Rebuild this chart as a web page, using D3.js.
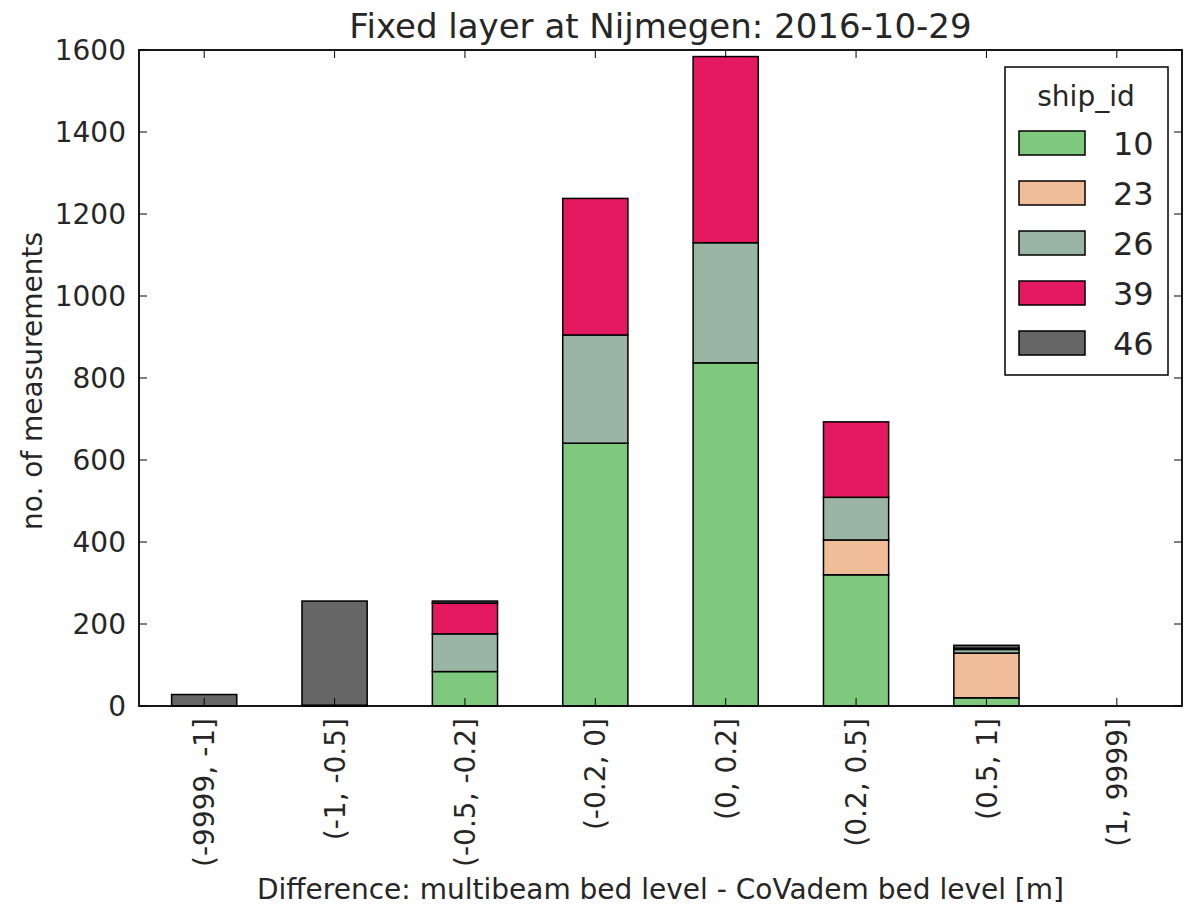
<!DOCTYPE html>
<html><head><meta charset="utf-8">
<script src="https://cdn.jsdelivr.net/npm/d3@7"></script>
<style>body{margin:0;background:#fff}svg{display:block}text{font-family:"DejaVu Sans",sans-serif;fill:#262626}</style>
</head><body><svg id="c" width="1185" height="908"></svg>
<script>
const categories = ["(-9999, -1]","(-1, -0.5]","(-0.5, -0.2]","(-0.2, 0]","(0, 0.2]","(0.2, 0.5]","(0.5, 1]","(1, 9999]"];
const ships = ["10","23","26","39","46"];
const s10 = [0, 2, 84, 641, 837, 320, 20, 0];
const s23 = [0, 0, 0, 0, 0, 85, 109, 0];
const s26 = [0, 0, 92, 264, 293, 104, 9, 0];
const s39 = [0, 0, 75, 333, 454, 184, 3, 0];
const s46 = [28, 254, 5, 0, 0, 0, 7, 0];
const colors = ["#7fc97f","#efbd97","#9ab5a3","#e4195f","#666666"];
const yTicks = [0,200,400,600,800,1000,1200,1400,1600];

const series = [s10,s23,s26,s39,s46];
const rows = categories.map((c,i)=>{const r={cat:c}; ships.forEach((s,j)=>r[s]=series[j][i]); return r;});
const stacked = d3.stack().keys(ships)(rows);

const svg = d3.select("#c");
const m = {l:139, r:1182, t:50, b:706};
const x = d3.scaleBand().domain(categories).range([m.l,m.r]).paddingInner(0.5).paddingOuter(0.25);
const y = d3.scaleLinear().domain([0,1600]).range([m.b,m.t]);

stacked.forEach((layer,j)=>{
  svg.append("g").selectAll("rect").data(layer.filter(d=>d[1]-d[0]>0)).join("rect")
    .attr("x",d=>x(d.data.cat)).attr("width",x.bandwidth())
    .attr("y",d=>y(d[1])).attr("height",d=>y(d[0])-y(d[1]))
    .attr("fill",colors[j]).attr("stroke","#000").attr("stroke-width",1.5);
});

const tl = 8;
const fs = 28;
const g = svg.append("g");
yTicks.forEach(v=>{
  g.append("line").attr("x1",m.l).attr("x2",m.l+tl).attr("y1",y(v)).attr("y2",y(v)).attr("stroke","#000");
  g.append("line").attr("x1",m.r).attr("x2",m.r-tl).attr("y1",y(v)).attr("y2",y(v)).attr("stroke","#000");
  g.append("text").attr("x",m.l-13).attr("y",y(v)).attr("dy","0.36em").attr("text-anchor","end").attr("font-size",fs).text(v);
});
categories.forEach(c=>{
  const cx = x(c)+x.bandwidth()/2;
  g.append("line").attr("x1",cx).attr("x2",cx).attr("y1",m.b).attr("y2",m.b-tl).attr("stroke","#000");
  g.append("line").attr("x1",cx).attr("x2",cx).attr("y1",m.t).attr("y2",m.t+tl).attr("stroke","#000");
  g.append("text").attr("transform",`translate(${cx},${m.b+12}) rotate(-90)`).attr("dy","0.36em")
    .attr("text-anchor","end").attr("font-size",fs).text(c);
});

svg.append("rect").attr("x",m.l).attr("y",m.t).attr("width",m.r-m.l).attr("height",m.b-m.t)
  .attr("fill","none").attr("stroke","#000").attr("stroke-width",1.8);

svg.append("text").attr("x",(m.l+m.r)/2).attr("y",38).attr("text-anchor","middle").attr("font-size",34).text("Fixed layer at Nijmegen: 2016-10-29");
svg.append("text").attr("transform",`translate(42,${(m.t+m.b)/2 + 3}) rotate(-90)`).attr("text-anchor","middle").attr("font-size",fs).text("no. of measurements");
svg.append("text").attr("x",(m.l+m.r)/2).attr("y",899).attr("text-anchor","middle").attr("font-size",fs).text("Difference: multibeam bed level - CoVadem bed level [m]");

const lg = svg.append("g");
lg.append("rect").attr("x",1005).attr("y",67).attr("width",163).attr("height",308).attr("fill","#fff").attr("stroke","#000").attr("stroke-width",1.5);
lg.append("text").attr("x",1086).attr("y",106).attr("text-anchor","middle").attr("font-size",fs).text("ship_id");
ships.forEach((s,j)=>{
  const cy = 143 + j*50;
  lg.append("rect").attr("x",1019).attr("y",cy-12).attr("width",66).attr("height",24).attr("fill",colors[j]).attr("stroke","#000").attr("stroke-width",1.5);
  lg.append("text").attr("x",1113).attr("y",cy).attr("dy","0.36em").attr("font-size",32).text(s);
});
</script></body></html>
